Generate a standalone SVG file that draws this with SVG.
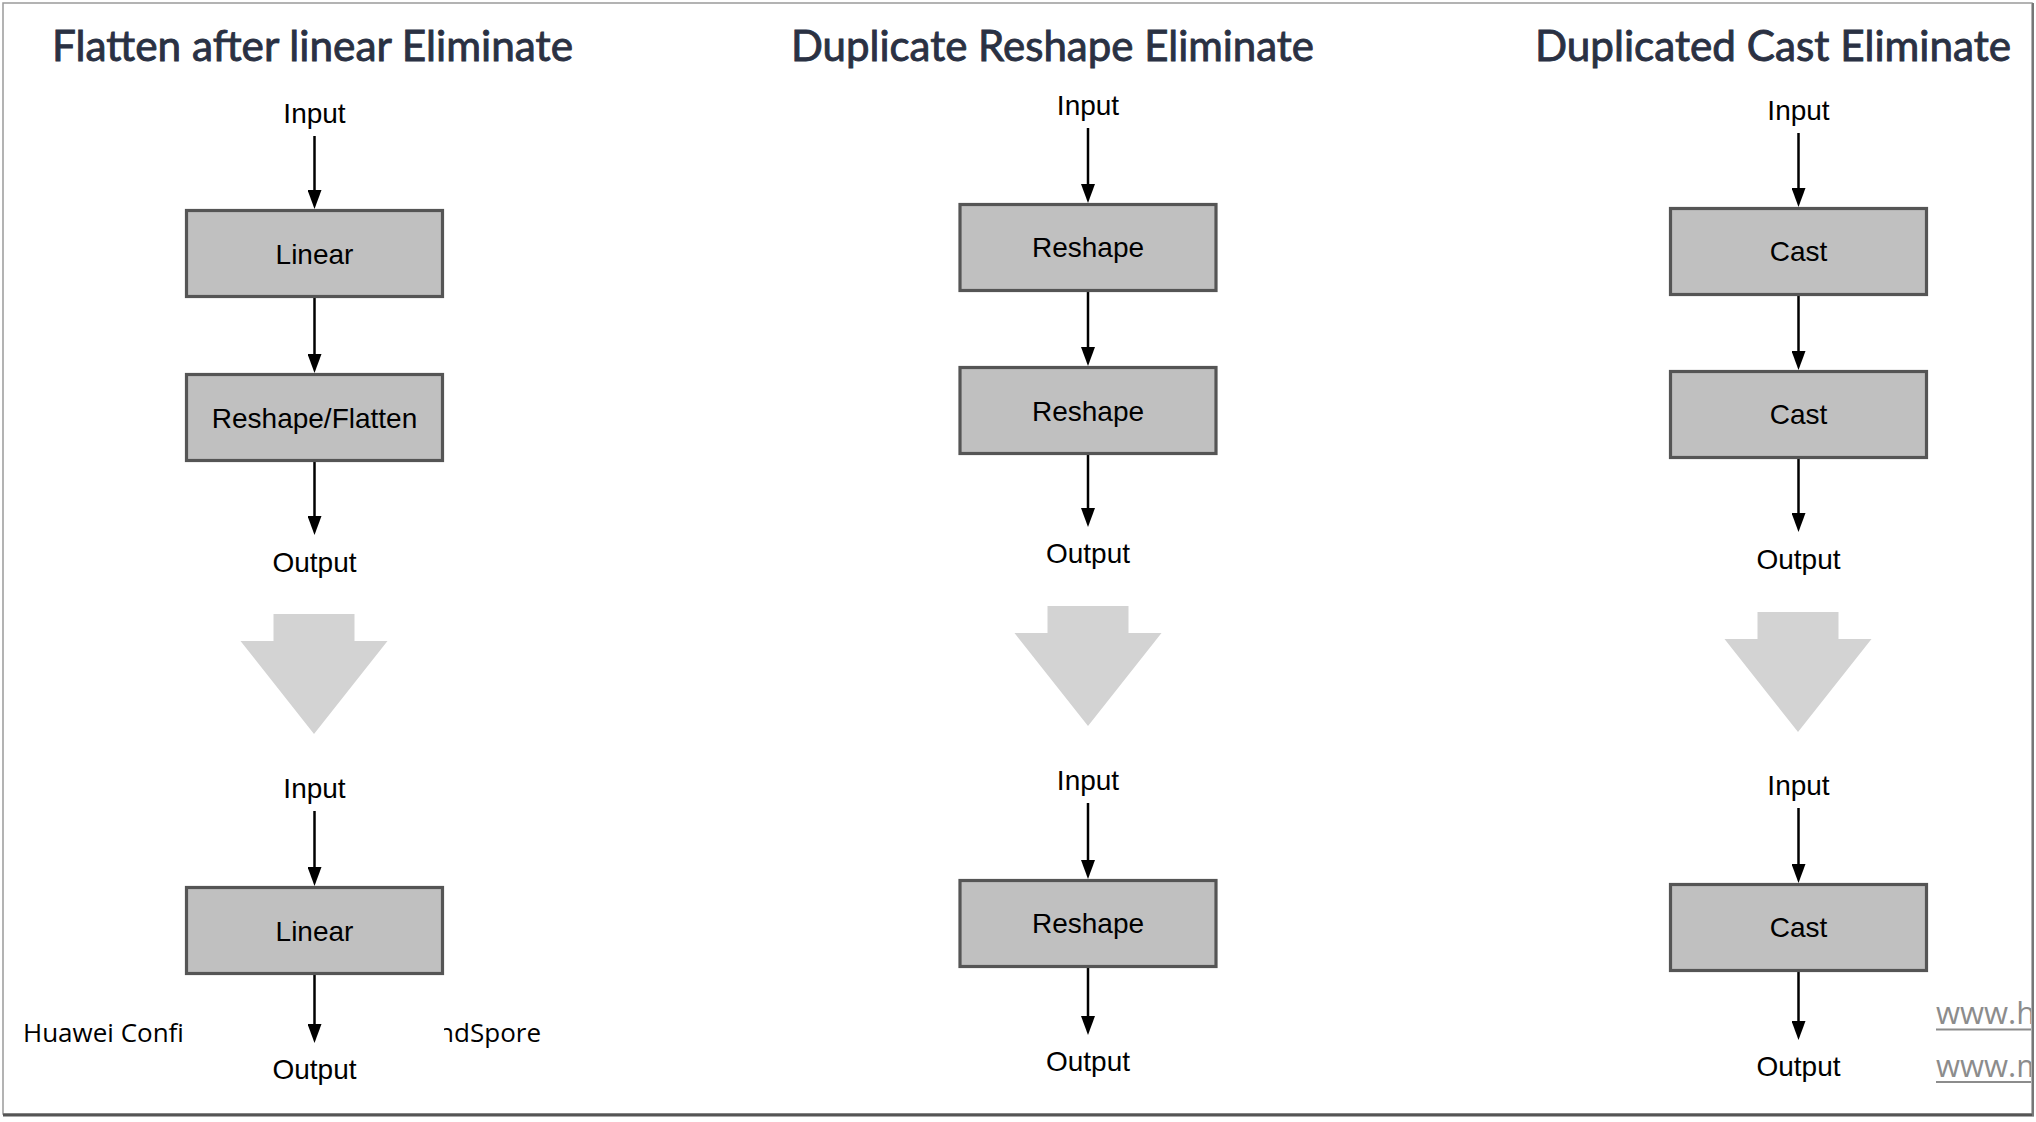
<svg xmlns="http://www.w3.org/2000/svg" width="2036" height="1122" viewBox="0 0 2036 1122">
<defs>
<style>
.title{font-family:Lato,"Gill Sans","Open Sans",sans-serif;font-size:43px;fill:#2a3143;stroke:#2a3143;stroke-width:0.9px}
.lbl{font-family:"Liberation Sans",Arial,sans-serif;font-size:28px;fill:#000;text-anchor:middle}
.box{fill:#c0c0c0;stroke:#555;stroke-width:3.2}
.big{fill:#d3d3d3}
.edge{stroke:#000;stroke-width:2.5;fill:none;marker-end:url(#ah)}
.foot{font-family:"Open Sans","Noto Sans",sans-serif;font-size:26px;fill:#000}
.www{font-family:"Open Sans","Noto Sans",sans-serif;font-size:31px;fill:#8c8c8c}
</style>
<marker id="ah" viewBox="0 0 19 14" refX="9" refY="7" markerWidth="19" markerHeight="14" markerUnits="userSpaceOnUse" orient="auto">
<path d="M0,0 L19,7 L0,14 z" fill="#000"/>
</marker>
<clipPath id="clipR"><rect x="0" y="0" width="2031" height="1122"/></clipPath>
<clipPath id="clipMS"><rect x="444" y="990" width="200" height="80"/></clipPath>
</defs>
<rect x="0" y="0" width="2036" height="1122" fill="#fff"/>
<g id="frame">
<rect x="3" y="3" width="2029" height="1111" fill="#fff" stroke="#9a9a9a" stroke-width="1.5"/>
<line x1="3" y1="1115" x2="2034" y2="1115" stroke="#555" stroke-width="3"/>
<line x1="2033" y1="3" x2="2033" y2="1116" stroke="#777" stroke-width="2"/>
</g>
<g id="titles">
<text class="title" x="52" y="61" textLength="521" lengthAdjust="spacingAndGlyphs">Flatten after linear Eliminate</text>
<text class="title" x="791" y="61" textLength="523" lengthAdjust="spacingAndGlyphs">Duplicate Reshape Eliminate</text>
<text class="title" x="1535" y="61" textLength="476" lengthAdjust="spacingAndGlyphs">Duplicated Cast Eliminate</text>
</g>
<g id="connectors">
<line class="edge" x1="314.5" y1="136" x2="314.5" y2="199"/>
<line class="edge" x1="314.5" y1="298" x2="314.5" y2="363"/>
<line class="edge" x1="314.5" y1="462" x2="314.5" y2="525"/>
<line class="edge" x1="314.5" y1="811" x2="314.5" y2="876"/>
<line class="edge" x1="314.5" y1="975" x2="314.5" y2="1033"/>
<line class="edge" x1="1088" y1="128" x2="1088" y2="193"/>
<line class="edge" x1="1088" y1="292" x2="1088" y2="356"/>
<line class="edge" x1="1088" y1="455" x2="1088" y2="517"/>
<line class="edge" x1="1088" y1="803" x2="1088" y2="869"/>
<line class="edge" x1="1088" y1="968" x2="1088" y2="1025"/>
<line class="edge" x1="1798.5" y1="133" x2="1798.5" y2="197"/>
<line class="edge" x1="1798.5" y1="296" x2="1798.5" y2="360"/>
<line class="edge" x1="1798.5" y1="459" x2="1798.5" y2="522"/>
<line class="edge" x1="1798.5" y1="808" x2="1798.5" y2="873"/>
<line class="edge" x1="1798.5" y1="972" x2="1798.5" y2="1030"/>
</g>
<g id="col1">
<g id="c1-input"><text class="lbl" x="314.5" y="123">Input</text></g>
<g id="c1-linear"><rect class="box" x="186.5" y="210.5" width="256" height="86"/><text class="lbl" x="314.5" y="264">Linear</text></g>
<g id="c1-reshape"><rect class="box" x="186.5" y="374.5" width="256" height="86"/><text class="lbl" x="314.5" y="428">Reshape/Flatten</text></g>
<g id="c1-output"><text class="lbl" x="314.5" y="572">Output</text></g>
<g id="c1-bigarrow"><polygon class="big" points="273.5,614 354.5,614 354.5,641 387.5,641 314,734 240.5,641 273.5,641"/></g>
<g id="c1-input2"><text class="lbl" x="314.5" y="798">Input</text></g>
<g id="c1-linear2"><rect class="box" x="186.5" y="887.5" width="256" height="86"/><text class="lbl" x="314.5" y="941">Linear</text></g>
<g id="c1-output2"><text class="lbl" x="314.5" y="1079">Output</text></g>
</g>
<g id="col2">
<g id="c2-input"><text class="lbl" x="1088" y="115">Input</text></g>
<g id="c2-reshape1"><rect class="box" x="960" y="204.5" width="256" height="86"/><text class="lbl" x="1088" y="257">Reshape</text></g>
<g id="c2-reshape2"><rect class="box" x="960" y="367.5" width="256" height="86"/><text class="lbl" x="1088" y="421">Reshape</text></g>
<g id="c2-output"><text class="lbl" x="1088" y="563">Output</text></g>
<g id="c2-bigarrow"><polygon class="big" points="1047.5,606 1128.5,606 1128.5,633 1161.5,633 1088,726 1014.5,633 1047.5,633"/></g>
<g id="c2-input2"><text class="lbl" x="1088" y="790">Input</text></g>
<g id="c2-reshape3"><rect class="box" x="960" y="880.5" width="256" height="86"/><text class="lbl" x="1088" y="933">Reshape</text></g>
<g id="c2-output2"><text class="lbl" x="1088" y="1071">Output</text></g>
</g>
<g id="col3">
<g id="c3-input"><text class="lbl" x="1798.5" y="120">Input</text></g>
<g id="c3-cast1"><rect class="box" x="1670.5" y="208.5" width="256" height="86"/><text class="lbl" x="1798.5" y="261">Cast</text></g>
<g id="c3-cast2"><rect class="box" x="1670.5" y="371.5" width="256" height="86"/><text class="lbl" x="1798.5" y="424">Cast</text></g>
<g id="c3-output"><text class="lbl" x="1798.5" y="569">Output</text></g>
<g id="c3-bigarrow"><polygon class="big" points="1757.5,612 1838.5,612 1838.5,639 1871.5,639 1798,732 1724.5,639 1757.5,639"/></g>
<g id="c3-input2"><text class="lbl" x="1798.5" y="795">Input</text></g>
<g id="c3-cast3"><rect class="box" x="1670.5" y="884.5" width="256" height="86"/><text class="lbl" x="1798.5" y="937">Cast</text></g>
<g id="c3-output2"><text class="lbl" x="1798.5" y="1076">Output</text></g>
</g>
<g id="footer">
<text class="foot" x="23" y="1042">Huawei Confi</text>
<text class="foot" x="541" y="1042" text-anchor="end" clip-path="url(#clipMS)">ndSpore</text>
<g clip-path="url(#clipR)">
<text class="www" x="1936" y="1024">www.h</text>
<line x1="1936" y1="1029.5" x2="2040" y2="1029.5" stroke="#8c8c8c" stroke-width="2"/>
<text class="www" x="1936" y="1077">www.m</text>
<line x1="1936" y1="1082" x2="2040" y2="1082" stroke="#8c8c8c" stroke-width="2"/>
</g>
</g>
</svg>
